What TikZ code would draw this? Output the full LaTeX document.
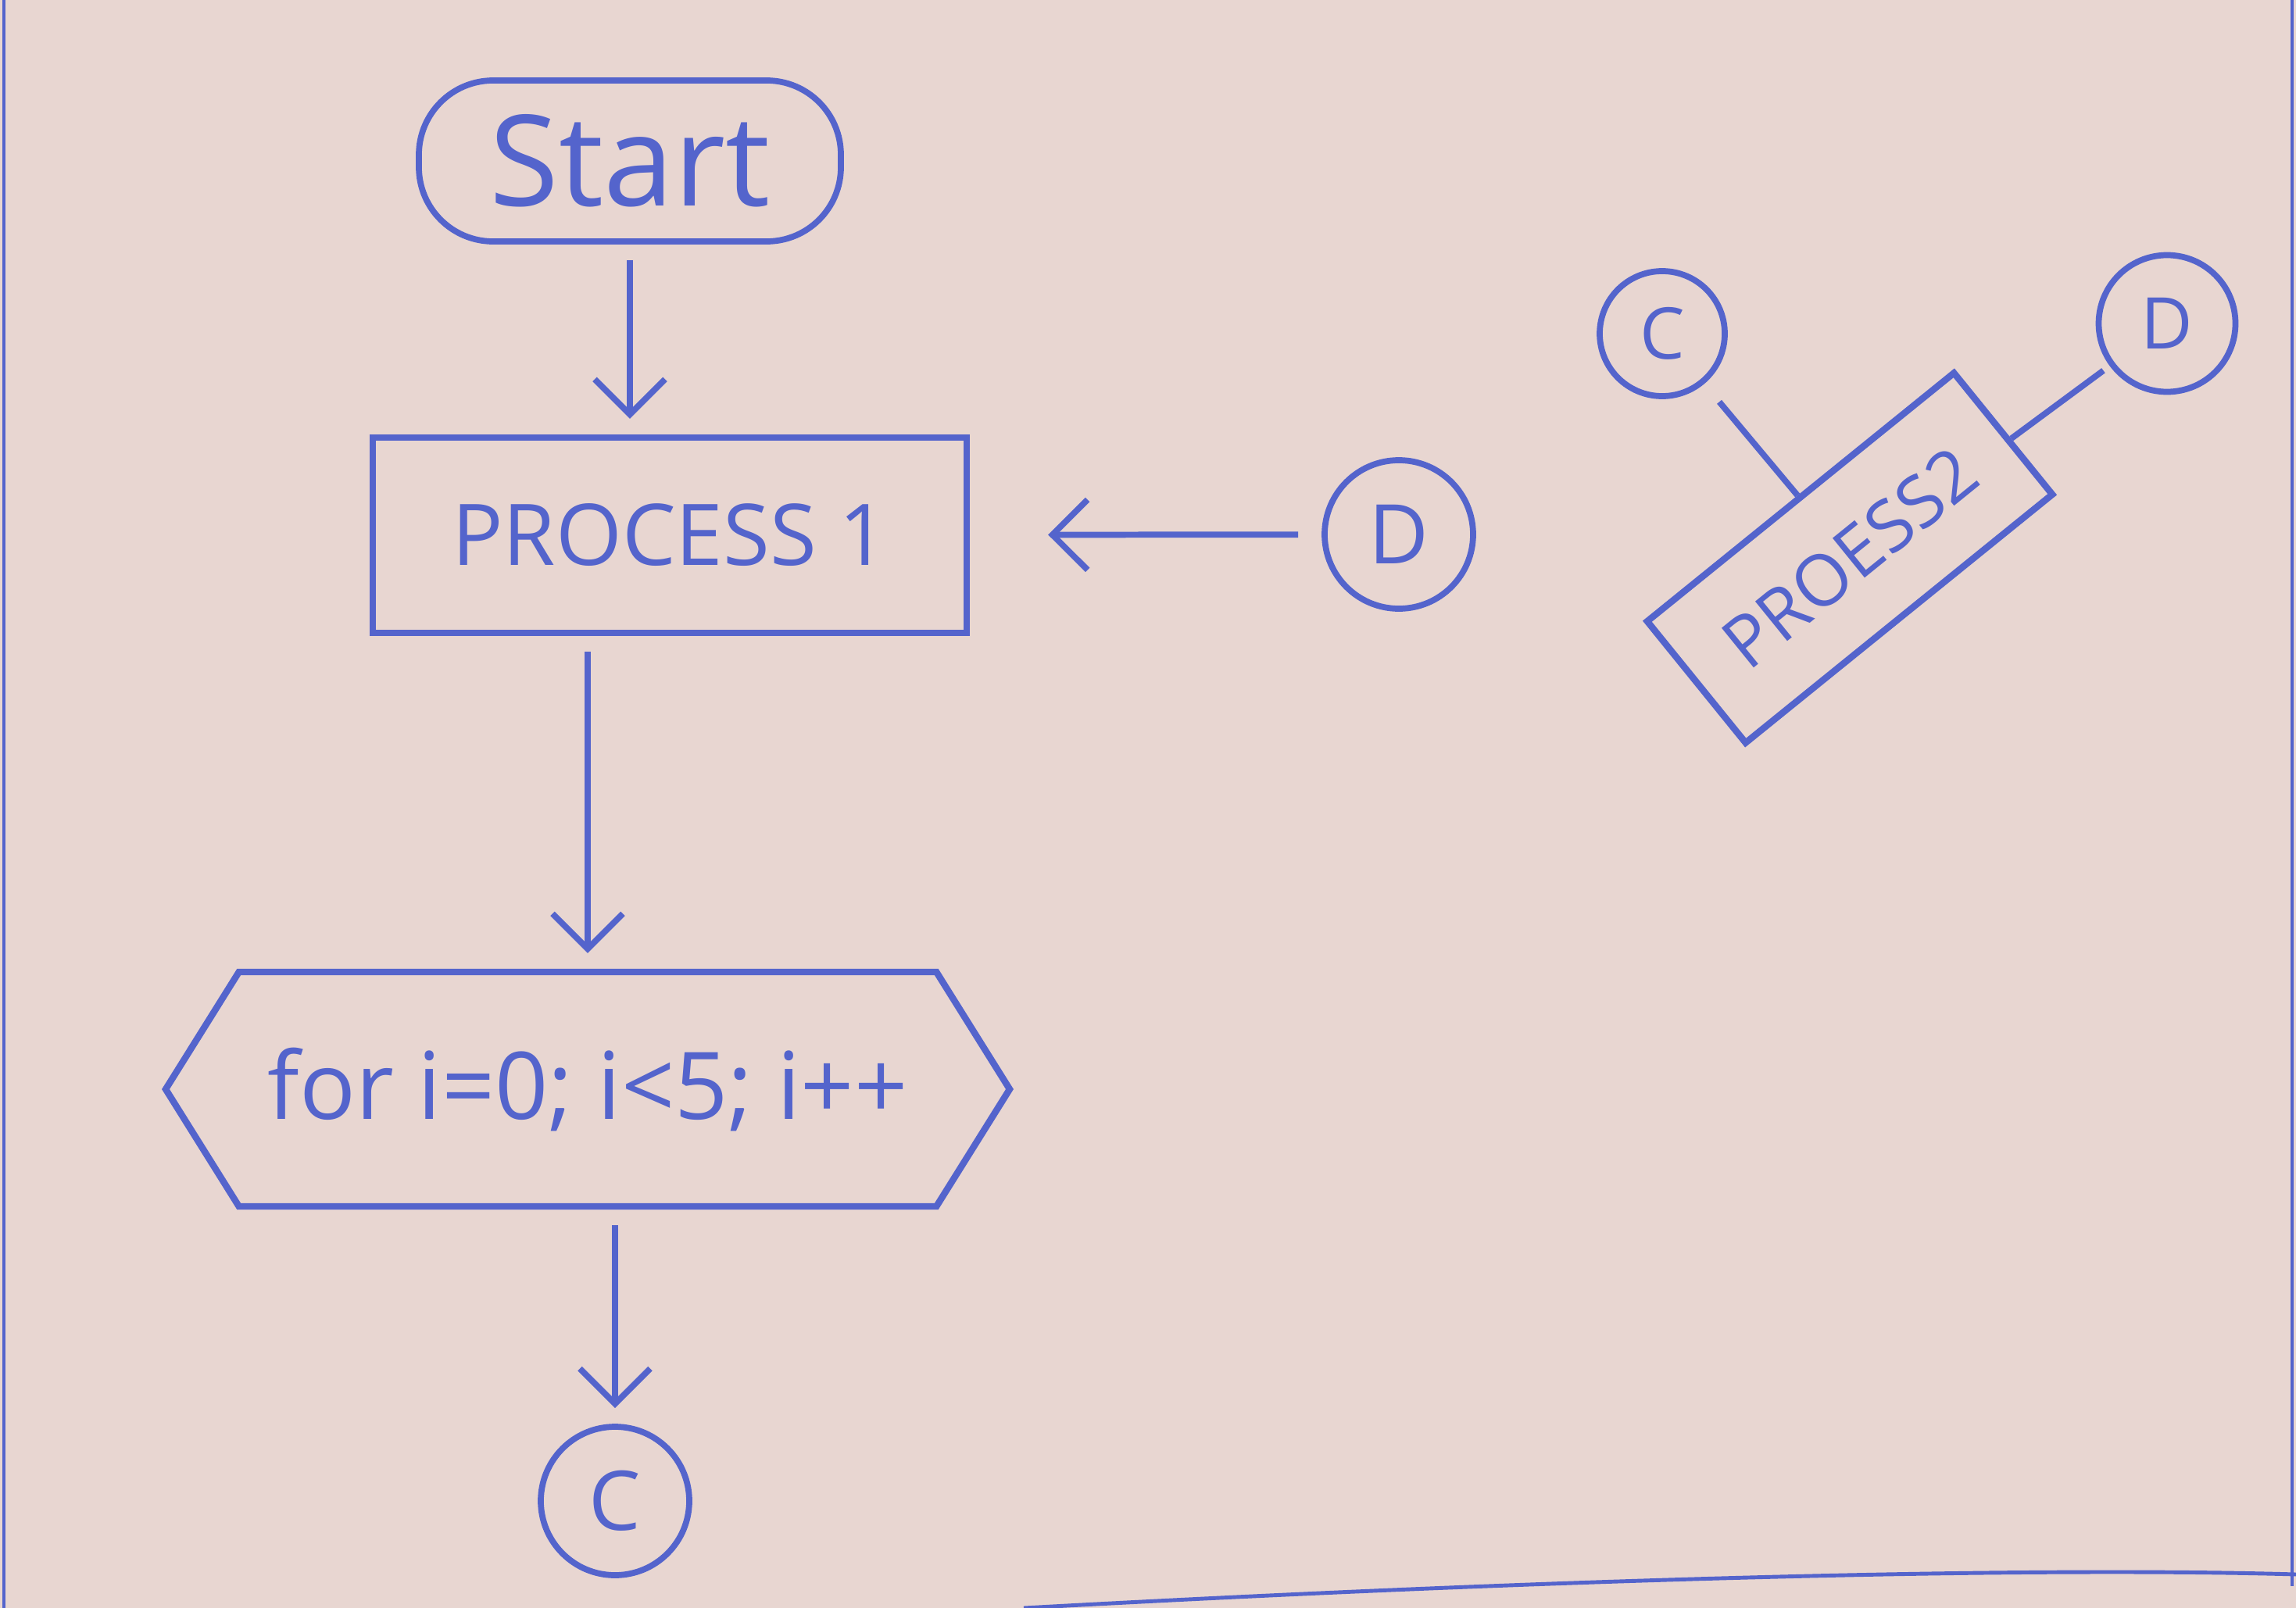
\documentclass[tikz,border=0pt]{standalone}
\usepackage{fontspec}
\setmainfont{Open Sans}
\usepackage{tikz}
\usetikzlibrary{arrows.meta,positioning,shapes.geometric,shapes.symbols}
\definecolor{Ink}{HTML}{5464CC}
\definecolor{Paper}{HTML}{E8D6D1}

\begin{document}
\begin{tikzpicture}[>={Straight Barb[length=4.5mm,width=9mm,line width=2.2pt]},
every node/.style={text=Ink},
box/.style={draw=Ink,line width=2.4pt,minimum width=7.6cm,minimum height=2.5cm,font=\fontsize{31}{34}\selectfont},
term/.style={draw=Ink,line width=2.2pt,rounded corners=0.95cm,minimum width=5.4cm,minimum height=2.06cm,font=\fontsize{46}{50}\selectfont},
loopbox/.style={draw=Ink,line width=2.4pt,signal,signal to=west and east,signal pointer angle=116,minimum width=10.8cm,minimum height=3.0cm,font=\fontsize{34}{38}\selectfont},
conn/.style={draw=Ink,circle,line width=2.2pt,inner sep=0pt,minimum size=1.9cm,font=\fontsize{30}{32}\selectfont},
arr/.style={->,line width=2.2pt,Ink,shorten <=2mm,shorten >=2mm},
ln/.style={line width=2.2pt,Ink}]
\useasboundingbox (0,0) rectangle (29.38,-20.58);
\fill[Paper] (0,0) rectangle (29.38,-20.58);
% page edges
\draw[Ink,line width=1.2pt] (0.05,0) -- (0.05,-20.58);
\draw[Ink,line width=1.2pt] (29.33,0) -- (29.33,-20.3);
\draw[Ink,line width=1.4pt] (13.1,-20.58) .. controls (20,-20.2) and (26,-20.05) .. (29.38,-20.15);
% main flow
\node[term] (start) at (8.06,-2.06) {Start};
\node[box] (proc1) at (8.57,-6.85) {PROCESS 1};
\node[loopbox] (loop) at (7.52,-13.94) {for i=0; i<5; i++};
\node[conn] (cA) at (7.87,-19.21) {C};
\node[conn] (dA) at (17.90,-6.84) {D};
% off-page part
\node[conn,minimum size=1.6cm,font=\fontsize{26}{28}\selectfont] (cB) at (21.27,-4.27) {C};
\node[conn,minimum size=1.75cm,font=\fontsize{26}{28}\selectfont] (dB) at (27.73,-4.14) {D};
\node[box,rotate=39,minimum width=5.05cm,minimum height=2.0cm,font=\fontsize{26}{28}\selectfont] (proc2) at (23.67,-7.14) {PROESS2};
\foreach \a/\b in {start.south/start |- proc1.north,loop |- proc1.south/loop.north,cA |- loop.south/cA}{\draw[arr] (\a)--(\b);}
\draw[arr,shorten >=1cm,shorten <=3mm] (dA) -- (proc1);
\draw[ln,shorten <=3mm] (cB) -- (proc2);
\draw[ln,shorten >=1mm] (proc2) -- (dB);
\end{tikzpicture}
\end{document}
